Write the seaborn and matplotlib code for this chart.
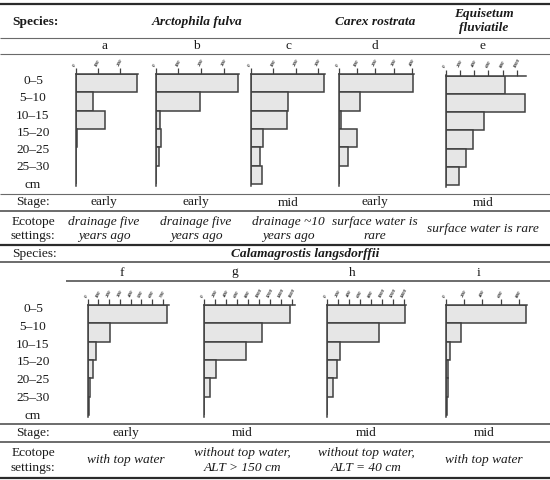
import matplotlib
matplotlib.use("Agg")
import matplotlib.pyplot as plt
import seaborn as sns
import pandas as pd

# depth rows (cm) shared by every panel
depths = ["0–5", "5–10", "10–15", "15–20", "20–25", "25–30"]

# root values per depth
vals_a = [275, 75, 130, 4, 2, 1]
vals_b = [360, 195, 20, 23, 14, 0]
vals_c = [325, 165, 160, 55, 40, 50]
vals_d = [405, 115, 10, 100, 50, 0]
vals_e = [840, 1110, 545, 390, 285, 185]
vals_f = [745, 205, 80, 45, 25, 12]
vals_g = [1570, 1050, 760, 220, 110, 0]
vals_h = [1420, 945, 240, 190, 110, 10]
vals_i = [875, 170, 45, 25, 25, 10]

ticks_a = [0, 100, 200]
ticks_b = [0, 100, 200, 300]
ticks_c = [0, 100, 200, 300]
ticks_d = [0, 100, 200, 300, 400]
ticks_e = [0, 200, 400, 600, 800, 1000]
ticks_f = [0, 100, 200, 300, 400, 500, 600, 700]
ticks_g = [0, 200, 400, 600, 800, 1000, 1200, 1400, 1600]
ticks_h = [0, 200, 400, 600, 800, 1000, 1200, 1400]
ticks_i = [0, 200, 400, 600, 800]

letters_top = ["a", "b", "c", "d", "e"]
letters_bot = ["f", "g", "h", "i"]
stage_top = ["early", "early", "mid", "early", "mid"]
stage_bot = ["early", "mid", "mid", "mid"]
ecotope_top = ["drainage five\nyears ago", "drainage five\nyears ago",
               "drainage ~10\nyears ago", "surface water is\nrare",
               "surface water is rare"]
ecotope_bot = ["with top water", "without top water,\nALT > 150 cm",
               "without top water,\nALT = 40 cm", "with top water"]

sns.set_style("white")
plt.rcParams["font.family"] = ["Liberation Serif", "DejaVu Serif"]

W, H = 550, 480
fig = plt.figure(figsize=(5.5, 4.8), dpi=100)

# background axes in pixel coordinates for the table
bg = fig.add_axes([0, 0, 1, 1])
bg.set_xlim(0, W)
bg.set_ylim(H, 0)
bg.axis("off")

FS = 9.6
DARK = "#2b2b2b"
GRAY = "#6a6a6a"


def hline(y, x0=0, x1=W, lw=1.0, c=GRAY):
    bg.plot([x0, x1], [y, y], color=c, lw=lw, solid_capstyle="butt")


def txt(x, y, s, **kw):
    kw.setdefault("fontsize", FS)
    kw.setdefault("ha", "center")
    bg.text(x, y, s, va="center", color="#1a1a1a", linespacing=1.25, **kw)


# table rules
hline(4, lw=1.6, c=DARK)
hline(37.5, lw=0.8)
hline(54, lw=0.8)
hline(193.5, lw=0.8)
hline(211, lw=1.1, c="#444444")
hline(244.5, lw=1.6, c=DARK)
hline(262, lw=1.1, c="#444444")
hline(281, x0=66, lw=1.1, c="#444444")
hline(424, lw=1.1, c="#444444")
hline(442, lw=1.1, c="#444444")
hline(477.5, lw=1.6, c=DARK)

# header texts
txt(12, 22, "Species:", ha="left", fontweight="bold")
txt(197, 22, "Arctophila fulva", fontweight="bold", style="italic")
txt(375, 22, "Carex rostrata", fontweight="bold", style="italic")
txt(484, 21, "Equisetum\nfluviatile", fontweight="bold", style="italic")
txt(12, 253.5, "Species:", ha="left")
txt(305, 253.5, "Calamagrostis langsdorffii", fontweight="bold", style="italic")

col_top = [104, 196, 288, 375, 483]
col_bot = [126, 242, 366, 484]
letter_x_bot = [122, 235, 352, 479]

for x, l, s, e in zip(col_top, letters_top, stage_top, ecotope_top):
    txt(x, 46, l)
    txt(x, 202.5, s)
    txt(x, 229, e, style="italic")
for xl, x, l, s, e in zip(letter_x_bot, col_bot, letters_bot, stage_bot, ecotope_bot):
    txt(xl, 272.5, l)
    txt(x, 433, s)
    txt(x, 460.5, e, style="italic")

for y0, ys in [(81, 17.3), (309, 17.8)]:
    for k, d in enumerate(depths + ["cm"]):
        txt(33, y0 + k * ys, d)

txt(33, 202.5, "Stage:")
txt(33, 229, "Ecotope\nsettings:")
txt(33, 433, "Stage:")
txt(33, 460.5, "Ecotope\nsettings:")

# panel layout: left px, top px, px per unit
ROW = 18.3
panels = [
    (vals_a, ticks_a, 76.0, 74.0, 22.0 / 100),
    (vals_b, ticks_b, 155.7, 74.0, 22.8 / 100),
    (vals_c, ticks_c, 251.0, 74.0, 22.4 / 100),
    (vals_d, ticks_d, 339.0, 74.0, 18.2 / 100),
    (vals_e, ticks_e, 445.7, 75.5, 7.1 / 100),
    (vals_f, ticks_f, 87.7, 305.0, 10.7 / 100),
    (vals_g, ticks_g, 204.0, 305.0, 5.5 / 100),
    (vals_h, ticks_h, 326.7, 305.0, 5.5 / 100),
    (vals_i, ticks_i, 446.0, 305.0, 9.1 / 100),
]

EDGE = "#404040"
for vals, ticks, left, top, ppu in panels:
    xmax = max(max(vals), ticks[-1]) * 1.02
    if max(vals) < ticks[-1]:
        xmax = ticks[-1] * 1.03
    wpx = xmax * ppu
    hpx = 6.1 * ROW
    ax = fig.add_axes([left / W, 1 - (top + hpx) / H, wpx / W, hpx / H])
    df = pd.DataFrame({"depth": depths, "value": vals})
    sns.barplot(data=df, x="value", y="depth", orient="h", ax=ax,
                color="#e6e6e6", edgecolor=EDGE, linewidth=1.1,
                width=1.0, saturation=1)
    ax.set_ylim(5.6, -0.5)
    ax.set_xlim(0, xmax)
    ax.set_xlabel("")
    ax.set_ylabel("")
    ax.set_yticks([])
    ax.set_facecolor("none")
    ax.xaxis.tick_top()
    ax.set_xticks(ticks)
    ax.set_xticklabels([str(t) for t in ticks], rotation=62, fontsize=3.6,
                       ha="left", va="bottom", rotation_mode="anchor",
                       fontstyle="italic", fontweight="bold", color="#222222")
    ax.tick_params(axis="x", which="major", top=True, bottom=False,
                   labeltop=True, labelbottom=False, direction="out",
                   length=4, width=0.9, color=EDGE, pad=1)
    for side in ["right", "bottom"]:
        ax.spines[side].set_visible(False)
    for side in ["left", "top"]:
        ax.spines[side].set_color(EDGE)
        ax.spines[side].set_linewidth(1.1)

fig.savefig("out.png", dpi=100)
